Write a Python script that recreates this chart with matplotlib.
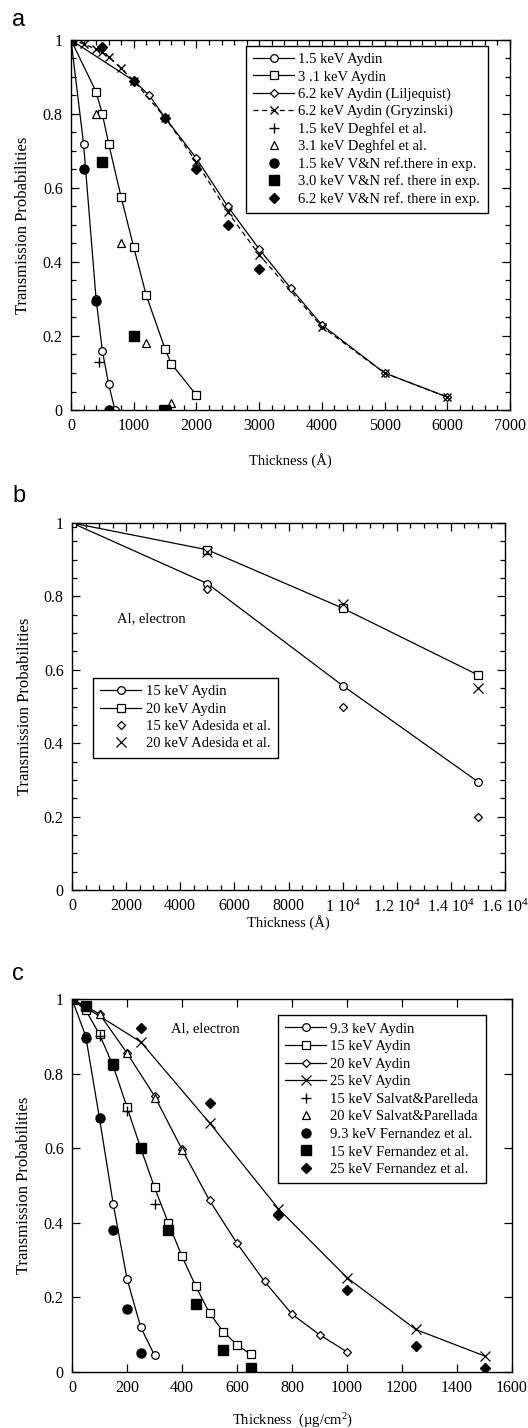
import numpy as np
import matplotlib
matplotlib.use('Agg')
import matplotlib.pyplot as plt
from matplotlib.ticker import MultipleLocator

plt.rcParams['font.family'] = ['Liberation Serif', 'DejaVu Serif']
plt.rcParams['mathtext.fontset'] = 'custom'
plt.rcParams['mathtext.rm'] = 'Liberation Serif'
plt.rcParams['mathtext.it'] = 'Liberation Serif:italic'

# ---- panel a data (thickness in Angstrom) ----
a15_x = [0, 200, 400, 500, 600, 700]
a15_y = [1, 0.72, 0.30, 0.16, 0.07, 0.0]
a31_x = [0, 400, 500, 600, 800, 1000, 1200, 1500, 1600, 2000]
a31_y = [1, 0.86, 0.80, 0.72, 0.575, 0.44, 0.31, 0.165, 0.125, 0.04]
a62l_x = [0, 1000, 1250, 1500, 2000, 2500, 3000, 3500, 4000, 5000, 6000]
a62l_y = [1, 0.89, 0.85, 0.79, 0.68, 0.55, 0.435, 0.33, 0.23, 0.10, 0.035]
a62g_x = [0, 200, 400, 500, 600, 800, 1000, 1500, 2000, 2500, 3000, 4000, 5000, 6000]
a62g_y = [1, 0.99, 0.975, 0.967, 0.955, 0.923, 0.89, 0.79, 0.67, 0.535, 0.42, 0.225, 0.10, 0.035]
deg15_x = [450]
deg15_y = [0.13]
deg31_x = [400, 800, 1200, 1600]
deg31_y = [0.80, 0.45, 0.18, 0.02]
vn15_x = [0, 200, 400, 600]
vn15_y = [1, 0.65, 0.295, 0.0]
vn30_x = [0, 500, 1000, 1500]
vn30_y = [1, 0.67, 0.20, 0.0]
vn62_x = [500, 1000, 1500, 2000, 2500, 3000]
vn62_y = [0.98, 0.89, 0.79, 0.65, 0.50, 0.38]

# ---- panel b data ----
b_x = [0, 5000, 10000, 15000]
b15_y = [1, 0.835, 0.557, 0.295]
b20_y = [1, 0.927, 0.768, 0.586]
ad_x = [5000, 10000, 15000]
ad15_y = [0.82, 0.50, 0.20]
ad20_y = [0.92, 0.779, 0.551]
b_xticks = [0, 2000, 4000, 6000, 8000, 10000, 12000, 14000, 16000]
b_ticklabels = ['0', '2000', '4000', '6000', '8000', r'1 10$^{4}$',
                r'1.2 10$^{4}$', r'1.4 10$^{4}$', r'1.6 10$^{4}$']

# ---- panel c data (ug/cm2) ----
c93_x = [0, 50, 100, 150, 200, 250, 300]
c93_y = [1, 0.90, 0.68, 0.45, 0.25, 0.12, 0.045]
c15_x = [0, 50, 100, 150, 200, 250, 300, 350, 400, 450, 500, 550, 600, 650]
c15_y = [1, 0.97, 0.905, 0.82, 0.71, 0.60, 0.495, 0.40, 0.31, 0.23, 0.158, 0.108, 0.073, 0.047]
c20_x = [0, 100, 200, 300, 400, 500, 600, 700, 800, 900, 1000]
c20_y = [1, 0.96, 0.855, 0.74, 0.597, 0.46, 0.345, 0.243, 0.155, 0.10, 0.054]
c25_x = [0, 250, 500, 750, 1000, 1250, 1500]
c25_y = [1, 0.885, 0.668, 0.438, 0.253, 0.114, 0.043]
sp15_x = [100, 200, 300]
sp15_y = [0.90, 0.70, 0.45]
sp20_x = [100, 200, 300, 400]
sp20_y = [0.96, 0.855, 0.735, 0.595]
fe93_x = [50, 100, 150, 200, 250]
fe93_y = [0.895, 0.68, 0.38, 0.17, 0.05]
fe15_x = [0, 50, 150, 250, 350, 450, 550, 650]
fe15_y = [1, 0.98, 0.827, 0.60, 0.38, 0.181, 0.06, 0.011]
fe25_x = [250, 500, 750, 1000, 1250, 1500]
fe25_y = [0.921, 0.722, 0.422, 0.219, 0.069, 0.011]

y_ticks = [0, 0.2, 0.4, 0.6, 0.8, 1.0]
y_labels = ['0', '0.2', '0.4', '0.6', '0.8', '1']

W, H = 528, 1428
fig = plt.figure(figsize=(W / 100, H / 100), dpi=100)
ax_a = fig.add_axes([71 / W, 1 - 410 / H, (510 - 71) / W, 370 / H])
ax_b = fig.add_axes([72 / W, 1 - 890 / H, (505 - 72) / W, 367 / H])
ax_c = fig.add_axes([72 / W, 1 - 1372 / H, (512 - 72) / W, 373 / H])

lw = 0.9
k = 'black'
open_kw = dict(color=k, mfc='white', mec=k, mew=0.9, lw=lw)
fill_kw = dict(color=k, ls='none')
leg_kw = dict(loc='upper left', bbox_transform=fig.transFigure, fontsize=10.5,
              handlelength=2.8, handletextpad=0.3, borderaxespad=0,
              borderpad=0.5, fancybox=False, edgecolor=k, framealpha=1)

# panel a
ax_a.plot(a15_x, a15_y, marker='o', ms=5.5, label='1.5 keV Aydin', **open_kw)
ax_a.plot(a31_x, a31_y, marker='s', ms=5.5, label='3 .1 keV Aydin', **open_kw)
ax_a.plot(a62l_x, a62l_y, marker='D', ms=4, label='6.2 keV Aydin (Liljequist)', **open_kw)
ax_a.plot(a62g_x, a62g_y, marker='x', ms=6, ls='--', color=k, lw=lw, dashes=(4, 3),
          label='6.2 keV Aydin (Gryzinski)')
ax_a.plot(deg15_x, deg15_y, marker='+', ms=7, mew=1, label='1.5 keV Deghfel et al.', **fill_kw)
ax_a.plot(deg31_x, deg31_y, marker='^', ms=6, mfc='white', mew=0.9,
          label='3.1 keV Deghfel et al.', **fill_kw)
ax_a.plot(vn15_x, vn15_y, marker='o', ms=6.5, label='1.5 keV V&N ref.there in exp.', **fill_kw)
ax_a.plot(vn30_x, vn30_y, marker='s', ms=6.5, label='3.0 keV V&N ref. there in exp.', **fill_kw)
ax_a.plot(vn62_x, vn62_y, marker='D', ms=5.5, label='6.2 keV V&N ref. there in exp.', **fill_kw)
ax_a.set_xlim(0, 7000)
ax_a.set_ylim(0, 1)
ax_a.set_xticks(range(0, 7001, 1000))
ax_a.xaxis.set_minor_locator(MultipleLocator(200))
ax_a.set_yticks(y_ticks, y_labels)
ax_a.yaxis.set_minor_locator(MultipleLocator(0.05))
ax_a.set_xlabel('Thickness (Å)')
ax_a.legend(bbox_to_anchor=(246 / W, 1 - 46 / H), labelspacing=0.26, **leg_kw)

# panel b
ax_b.plot(b_x, b15_y, marker='o', ms=5.5, label='15 keV Aydin', **open_kw)
ax_b.plot(b_x, b20_y, marker='s', ms=5.5, label='20 keV Aydin', **open_kw)
ax_b.plot(ad_x, ad15_y, marker='D', ms=4.5, mfc='white', mew=0.9,
          label='15 keV Adesida et al.', **fill_kw)
ax_b.plot(ad_x, ad20_y, marker='x', ms=6.5, mew=0.9, label='20 keV Adesida et al.', **fill_kw)
ax_b.set_xlim(0, 16000)
ax_b.set_ylim(0, 1)
ax_b.set_xticks(b_xticks, b_ticklabels)
ax_b.xaxis.set_minor_locator(MultipleLocator(500))
ax_b.set_yticks(y_ticks, y_labels)
ax_b.yaxis.set_minor_locator(MultipleLocator(0.05))
ax_b.set_xlabel('Thickness (Å)')
ax_b.text(1650, 0.73, 'Al, electron', fontsize=10.5)
ax_b.legend(bbox_to_anchor=(93 / W, 1 - 678 / H), labelspacing=0.28, **leg_kw)

# panel c
ax_c.plot(c93_x, c93_y, marker='o', ms=5.5, label='9.3 keV Aydin', **open_kw)
ax_c.plot(c15_x, c15_y, marker='s', ms=5.5, label='15 keV Aydin', **open_kw)
ax_c.plot(c20_x, c20_y, marker='D', ms=4, label='20 keV Aydin', **open_kw)
ax_c.plot(c25_x, c25_y, marker='x', ms=7, label='25 keV Aydin', **open_kw)
ax_c.plot(sp15_x, sp15_y, marker='+', ms=7, mew=1, label='15 keV Salvat&Parelleda', **fill_kw)
ax_c.plot(sp20_x, sp20_y, marker='^', ms=6, mfc='white', mew=0.9,
          label='20 keV Salvat&Parellada', **fill_kw)
ax_c.plot(fe93_x, fe93_y, marker='o', ms=6.5, label='9.3 keV Fernandez et al.', **fill_kw)
ax_c.plot(fe15_x, fe15_y, marker='s', ms=6.5, label='15 keV Fernandez et al.', **fill_kw)
ax_c.plot(fe25_x, fe25_y, marker='D', ms=5.5, label='25 keV Fernandez et al.', **fill_kw)
ax_c.set_xlim(0, 1600)
ax_c.set_ylim(0, 1)
ax_c.set_xticks(range(0, 1601, 200))
ax_c.set_yticks(y_ticks, y_labels)
ax_c.set_xlabel('Thickness  (µg/cm$^{2}$)')
ax_c.text(361, 0.91, 'Al, electron', fontsize=10.5)
ax_c.legend(bbox_to_anchor=(278 / W, 1 - 1015 / H), labelspacing=0.3, **leg_kw)

label_y = {ax_a: -0.116, ax_b: -0.068, ax_c: -0.107}
for ax in (ax_a, ax_b, ax_c):
    ax.set_ylabel('Transmission Probabilities', fontsize=12)
    ax.yaxis.set_label_coords(-0.09, 0.5)
    ax.xaxis.label.set_fontsize(10.5)
    ax.xaxis.set_label_coords(0.5, label_y[ax])
    ax.tick_params(which='both', direction='in', top=True, right=True, labelsize=11.5, width=0.9)
    ax.tick_params(which='major', length=6, pad=6)
    ax.tick_params(which='minor', length=3.5)
    for s in ax.spines.values():
        s.set_linewidth(1)
    ax.get_legend().get_frame().set_linewidth(1)

fig.text(12 / W, 1 - 26 / H, 'a', fontfamily='Liberation Sans', fontsize=17)
fig.text(12 / W, 1 - 502 / H, 'b', fontfamily='Liberation Sans', fontsize=17)
fig.text(12 / W, 1 - 980 / H, 'c', fontfamily='Liberation Sans', fontsize=17)

fig.savefig('out.png', dpi=100)
